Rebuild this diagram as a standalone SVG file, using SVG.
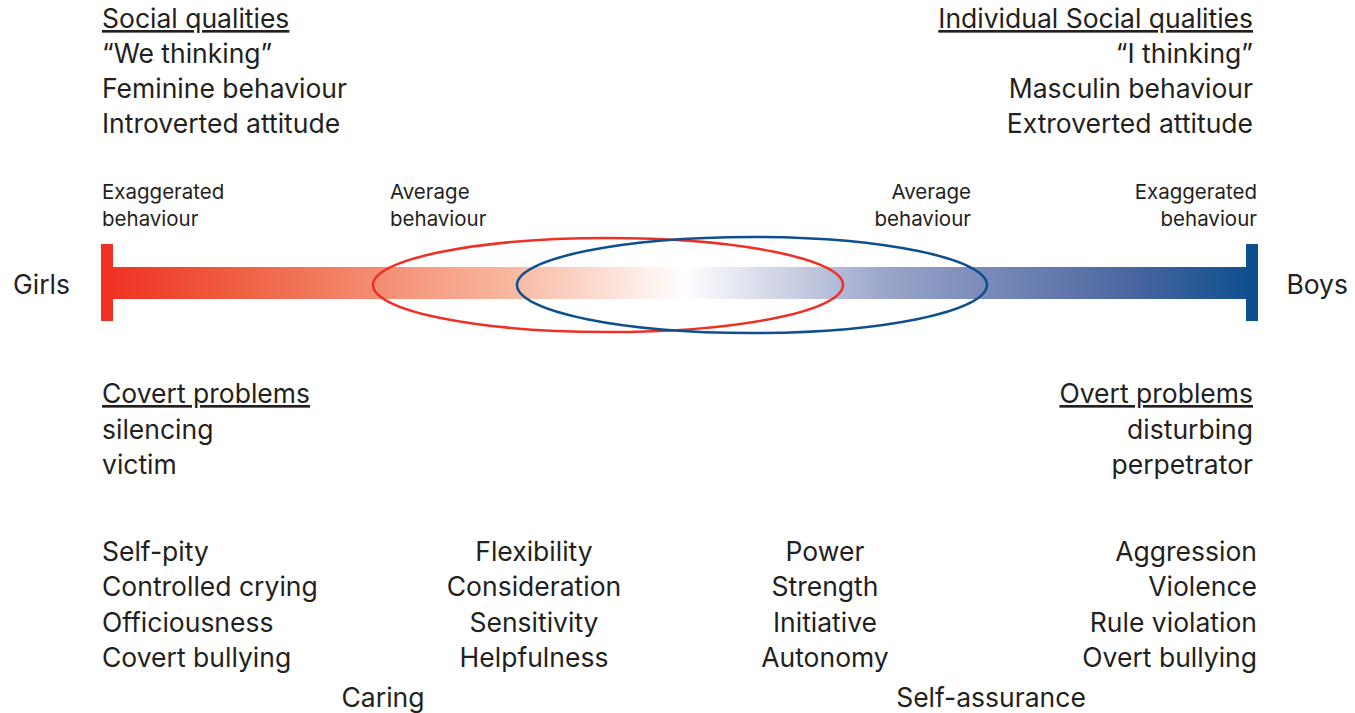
<svg xmlns="http://www.w3.org/2000/svg" width="1355" height="713" viewBox="0 0 1355 713">
<defs>
<linearGradient id="bar" x1="107" y1="0" x2="1252" y2="0" gradientUnits="userSpaceOnUse">
<stop offset="0" stop-color="#EE3124"/>
<stop offset="0.107" stop-color="#EF5D3F"/>
<stop offset="0.352" stop-color="#F8B8A0"/>
<stop offset="0.505" stop-color="#FFFFFF"/>
<stop offset="0.684" stop-color="#98A3C9"/>
<stop offset="0.893" stop-color="#4B66A0"/>
<stop offset="1" stop-color="#0E4F8E"/>
</linearGradient>
<style>
text{font-family:Inter,"Liberation Sans",sans-serif;fill:#231F20}
.m{font-size:26.5px}
.s{font-size:20.5px}
.h{text-decoration:underline}
.e{text-anchor:end}
.c{text-anchor:middle}
</style>
</defs>
<rect width="1355" height="713" fill="#fff"/>
<g id="scale">
<rect x="107" y="267" width="1145" height="32" fill="url(#bar)"/>
<rect x="101" y="244" width="12" height="77" fill="#EE3124"/>
<rect x="1246" y="244" width="12" height="77" fill="#0E4F8E"/>
</g>
<g id="ellipses">
<ellipse cx="608" cy="285" rx="235" ry="47" fill="none" stroke="#EE3124" stroke-width="2.5"/>
<ellipse cx="752" cy="285" rx="235" ry="48" fill="none" stroke="#0E4F8E" stroke-width="2.5"/>
</g>
<g id="girls"><text class="m" x="13" y="294">Girls</text></g>
<g id="boys"><text class="m e" x="1348" y="294">Boys</text></g>
<g id="social-left">
<text class="m h" x="102" y="28">Social qualities</text>
<text class="m" x="102" y="63">“We thinking”</text>
<text class="m" x="102" y="98">Feminine behaviour</text>
<text class="m" x="102" y="133">Introverted attitude</text>
</g>
<g id="social-right">
<text class="m h e" x="1253" y="28">Individual Social qualities</text>
<text class="m e" x="1253" y="63">“I thinking”</text>
<text class="m e" x="1253" y="98">Masculin behaviour</text>
<text class="m e" x="1253" y="133">Extroverted attitude</text>
</g>
<g id="labels">
<text class="s" x="102" y="199">Exaggerated</text>
<text class="s" x="102" y="226">behaviour</text>
<text class="s" x="390" y="199">Average</text>
<text class="s" x="390" y="226">behaviour</text>
<text class="s e" x="971" y="199">Average</text>
<text class="s e" x="971" y="226">behaviour</text>
<text class="s e" x="1257" y="199">Exaggerated</text>
<text class="s e" x="1257" y="226">behaviour</text>
</g>
<g id="covert">
<text class="m h" x="102" y="403">Covert problems</text>
<text class="m" x="102" y="439">silencing</text>
<text class="m" x="102" y="474">victim</text>
</g>
<g id="overt">
<text class="m h e" x="1253" y="403">Overt problems</text>
<text class="m e" x="1253" y="439">disturbing</text>
<text class="m e" x="1253" y="474">perpetrator</text>
</g>
<g id="col1">
<text class="m" x="102" y="561">Self-pity</text>
<text class="m" x="102" y="596">Controlled crying</text>
<text class="m" x="102" y="632">Officiousness</text>
<text class="m" x="102" y="667">Covert bullying</text>
</g>
<g id="col2">
<text class="m c" x="534" y="561">Flexibility</text>
<text class="m c" x="534" y="596">Consideration</text>
<text class="m c" x="534" y="632">Sensitivity</text>
<text class="m c" x="534" y="667">Helpfulness</text>
</g>
<g id="col3">
<text class="m c" x="825" y="561">Power</text>
<text class="m c" x="825" y="596">Strength</text>
<text class="m c" x="825" y="632">Initiative</text>
<text class="m c" x="825" y="667">Autonomy</text>
</g>
<g id="col4">
<text class="m e" x="1257" y="561">Aggression</text>
<text class="m e" x="1257" y="596">Violence</text>
<text class="m e" x="1257" y="632">Rule violation</text>
<text class="m e" x="1257" y="667">Overt bullying</text>
</g>
<g id="caring"><text class="m c" x="383" y="707">Caring</text></g>
<g id="self-assurance"><text class="m c" x="991" y="707">Self-assurance</text></g>
</svg>
